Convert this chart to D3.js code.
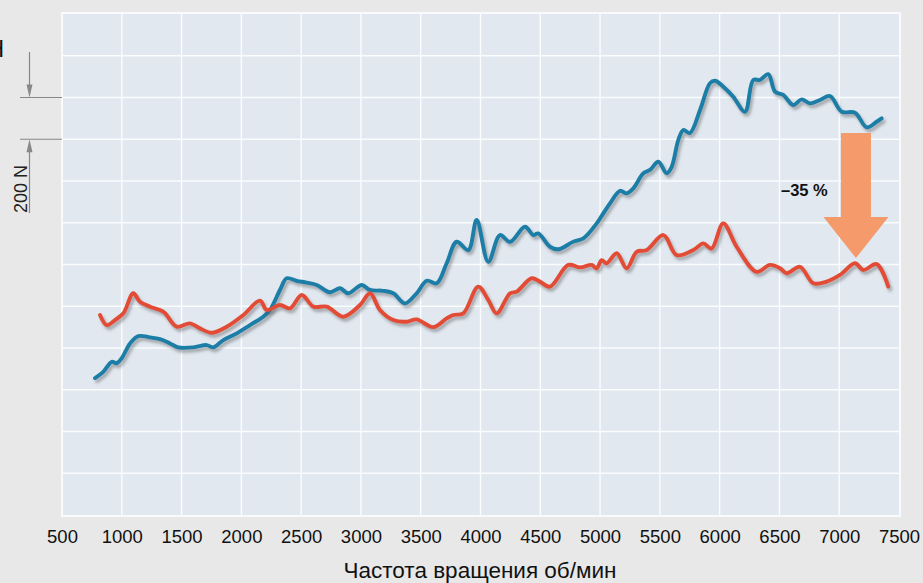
<!DOCTYPE html>
<html>
<head>
<meta charset="utf-8">
<script src="https://cdn.jsdelivr.net/npm/d3@7"></script>
<style>
  body { margin: 0; background: #e8e8e8; }
  svg { display: block; font-family: "Liberation Sans", Arial, sans-serif; }
</style>
</head>
<body>
<svg id="drawing_region"></svg>
<script>
// x ticks (об/мин)
const xTicks = [500, 1000, 1500, 2000, 2500, 3000, 3500, 4000, 4500, 5000, 5500, 6000, 6500, 7000, 7500];

// blue curve (before)
const rpmBlue = [776,845,916,957,999,1069,1138,1236,1320,1403,1473,1598,1710,1765,1849,1961,2072,2183,2239,2323,
  2379,2463,2546,2630,2741,2825,2894,3006,3076,3187,3271,3369,3466,3550,3634,3717,3801,3898,3968,4065,
  4163,4247,4372,4442,4483,4581,4651,4776,4860,4972,5027,5083,5167,5223,5278,5362,5418,5487,5557,5599,
  5654,5696,5752,5836,5919,5961,6031,6114,6212,6281,6337,6407,6463,6532,6616,6686,6755,6839,6923,7021,
  7132,7230,7313,7355];
const forceBlue = [656,686,734,727,751,822,857,851,842,822,803,803,814,803,838,870,910,950,982,1078,
  1134,1122,1113,1102,1067,1086,1062,1102,1078,1074,1062,1014,1062,1122,1110,1206,1309,1269,1413,1213,
  1341,1309,1381,1341,1349,1285,1273,1309,1325,1397,1445,1493,1553,1541,1565,1637,1653,1692,1637,1668,
  1796,1844,1830,1940,2068,2080,2052,2004,1932,2084,2084,2112,2028,2012,1964,1991,1972,1988,2007,1932,
  1927,1857,1884,1900];

// red curve (after)
const rpmRed = [818,874,943,1013,1096,1152,1236,1347,1459,1570,1654,1752,1877,2016,2156,2212,2323,2407,2505,2602,
  2714,2853,2992,3076,3159,3271,3383,3466,3605,3717,3773,3856,3981,4065,4135,4247,4302,4428,4497,4581,
  4734,4832,4930,4971,5013,5055,5139,5222,5306,5390,5529,5641,5780,5863,5933,6030,6142,6309,6421,6505,
  6561,6672,6783,6895,7006,7132,7201,7313,7410];
const forceRed = [958,910,934,966,1062,1022,998,974,902,918,894,873,902,958,1027,982,1006,990,1054,998,
  998,950,1006,1062,982,934,926,937,900,942,958,966,1094,1030,966,1062,1070,1134,1118,1094,
  1198,1186,1198,1182,1221,1206,1254,1182,1261,1269,1341,1245,1269,1301,1277,1397,1285,1165,1198,1182,
  1158,1189,1110,1118,1150,1206,1174,1202,1094];

// 200 N scale bar between these two force levels
const scaleBar = [1800, 2000];

// arrow annotation: rpm, from force, head start, to force
const arrowRpm = 7140;
const arrowForce = [1830, 1427, 1231];
const arrowLabel = '\u201335 %';

class LineChart {
    constructor (config, series){
        this.config = config;
        this.series = series;
        this.init();
    }

    init() {
        let self = this;
        self.svg = d3.select(self.config.parent)
            .attr('width', self.config.width)
            .attr('height', self.config.height);

        let defs = self.svg.append('defs');
        let f = defs.append('filter').attr('id', 'shadow')
            .attr('x', '-5%').attr('y', '-10%').attr('width', '115%').attr('height', '130%');
        f.append('feDropShadow')
            .attr('dx', 2).attr('dy', 3).attr('stdDeviation', 1.6)
            .attr('flood-color', '#555').attr('flood-opacity', 0.45);

        self.x = d3.scaleLinear().domain([500, 7500]).range([62, 899]);
        self.y = d3.scaleLinear().domain([0, 2400]).range([515, 14]);
    }

    render() {
        let self = this;
        const x = self.x, y = self.y;

        // plot background
        self.svg.append('rect')
            .attr('x', 62).attr('y', 13)
            .attr('width', 838).attr('height', 503)
            .attr('fill', '#e1e8f0')
            .attr('stroke', '#f8fafc')
            .attr('stroke-width', 2);

        // grid
        let grid = self.svg.append('g');
        grid.selectAll('.gx')
            .data(xTicks.slice(1, -1))
            .join('line')
            .attr('x1', d => x(d)).attr('x2', d => x(d))
            .attr('y1', 14).attr('y2', 515)
            .attr('stroke', '#fafcfe').attr('stroke-width', 1.4);
        grid.selectAll('.gy')
            .data(d3.range(200, 2400, 200))
            .join('line')
            .attr('x1', 63).attr('x2', 899)
            .attr('y1', d => y(d)).attr('y2', d => y(d))
            .attr('stroke', '#fafcfe').attr('stroke-width', 1.4);

        // x axis labels
        const xAxis = d3.axisBottom(x).tickValues(xTicks).tickFormat(d3.format('d')).tickSize(0).tickPadding(0);
        let ax = self.svg.append('g')
            .attr('transform', 'translate(0,530)')
            .call(xAxis);
        ax.select('.domain').remove();
        ax.selectAll('text')
            .attr('dy', '0.71em')
            .attr('font-size', 18.5)
            .attr('font-family', '"Liberation Sans", Arial, sans-serif')
            .attr('fill', '#111');

        self.svg.append('text')
            .attr('x', 480).attr('y', 578)
            .attr('text-anchor', 'middle')
            .attr('font-size', 22.5)
            .attr('fill', '#111')
            .text('Частота вращения об/мин');

        // 200 N scale bar
        const top = y(scaleBar[1]), bot = y(scaleBar[0]);
        let sb = self.svg.append('g').attr('stroke', '#888').attr('fill', '#888');
        [top, bot].forEach(v => {
            sb.append('line')
                .attr('x1', 20).attr('x2', 62)
                .attr('y1', v).attr('y2', v)
                .attr('stroke-width', 1.2);
        });
        sb.append('line').attr('x1', 29.5).attr('x2', 29.5).attr('y1', 52).attr('y2', top - 8).attr('stroke-width', 1.2);
        sb.append('path').attr('stroke', 'none')
            .attr('d', `M26.5,${top - 13}L32.5,${top - 13}L29.5,${top}Z`);
        sb.append('line').attr('x1', 29.5).attr('x2', 29.5).attr('y1', bot + 8).attr('y2', 213).attr('stroke-width', 1.2);
        sb.append('path').attr('stroke', 'none')
            .attr('d', `M26.5,${bot + 13}L32.5,${bot + 13}L29.5,${bot}Z`);
        self.svg.append('text')
            .attr('transform', 'translate(27,213) rotate(-90)')
            .attr('font-size', 18)
            .attr('fill', '#222')
            .text('200 N');
        // label cut at the left edge, as in the source
        self.svg.append('text')
            .attr('x', 4).attr('y', 57)
            .attr('text-anchor', 'end')
            .attr('font-size', 23)
            .attr('fill', '#111')
            .text('Н');

        // curves
        const line = d3.line()
            .x(d => x(d[0]))
            .y(d => y(d[1]))
            .curve(d3.curveCatmullRom.alpha(0.5));

        self.svg.selectAll('.series')
            .data(self.series)
            .join('path')
            .attr('d', s => line(d3.zip(s.rpm, s.force)))
            .attr('fill', 'none')
            .attr('stroke', s => s.color)
            .attr('stroke-width', 3.9)
            .attr('stroke-linejoin', 'round')
            .attr('stroke-linecap', 'round')
            .attr('filter', 'url(#shadow)');

        // arrow
        const ax0 = x(arrowRpm);
        const pts = [
            [ax0 - 15, y(arrowForce[0])], [ax0 + 15, y(arrowForce[0])],
            [ax0 + 15, y(arrowForce[1])], [ax0 + 32.5, y(arrowForce[1])],
            [ax0, y(arrowForce[2])],
            [ax0 - 32.5, y(arrowForce[1])], [ax0 - 15, y(arrowForce[1])]
        ];
        self.svg.append('path')
            .attr('d', 'M' + pts.join('L') + 'Z')
            .attr('fill', '#f59a6b');

        self.svg.append('text')
            .attr('x', 781).attr('y', 196)
            .attr('font-size', 16.5)
            .attr('font-weight', 'bold')
            .attr('fill', '#111')
            .text(arrowLabel);
    }
}

const chart = new LineChart({
    parent: '#drawing_region',
    width: 923,
    height: 583
}, [
    { rpm: rpmBlue, force: forceBlue, color: '#1a7ea6' },
    { rpm: rpmRed, force: forceRed, color: '#e24c34' }
]);
chart.render();
</script>
</body>
</html>
